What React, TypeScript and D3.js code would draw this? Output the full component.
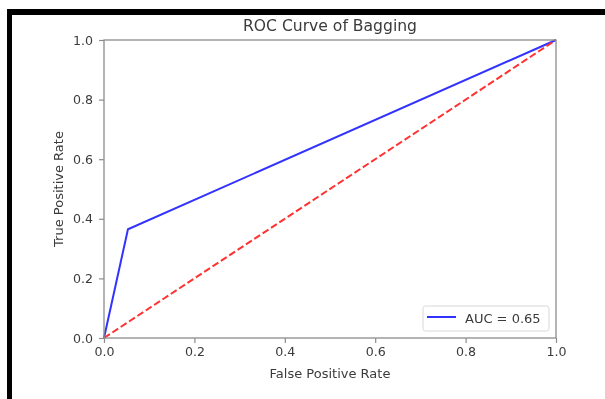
import * as d3 from "d3";
import React, { useRef, useEffect } from "react";

const fpr = [0, 0.053, 1];
const tpr = [0, 0.365, 1];
const chanceX = [0, 1];
const chanceY = [0, 1];
const tickValues = [0, 0.2, 0.4, 0.6, 0.8, 1.0];
const title = "ROC Curve of Bagging";
const xTitle = "False Positive Rate";
const yTitle = "True Positive Rate";
const legendLabel = "AUC = 0.65";

const width = 605;
const height = 399;
const margin = { top: 40, right: 49, bottom: 61, left: 104 };
const font = "DejaVu Sans, sans-serif";
const textColor = "#3a3a3a";
const spineColor = "#8c8c8c";

export default function App() {
  const ref = useRef<SVGSVGElement>(null);

  useEffect(() => {
    const svg = d3.select(ref.current);
    svg.selectAll("*").remove();

    const innerWidth = width - margin.left - margin.right;
    const innerHeight = height - margin.top - margin.bottom;

    svg
      .append("defs")
      .append("filter")
      .attr("id", "soft")
      .append("feGaussianBlur")
      .attr("stdDeviation", 0.35);

    svg.append("rect").attr("width", width).attr("height", height).attr("fill", "#fff");

    // black screenshot frame
    svg.append("rect").attr("x", 7).attr("y", 9).attr("width", width - 7).attr("height", 6).attr("fill", "#000");
    svg.append("rect").attr("x", 7).attr("y", 9).attr("width", 5).attr("height", height - 9).attr("fill", "#000");

    const root = svg.append("g").attr("filter", "url(#soft)");
    const chart = root.append("g").attr("transform", `translate(${margin.left},${margin.top})`);

    const x = d3.scaleLinear().domain([0, 1]).range([0, innerWidth]);
    const y = d3.scaleLinear().domain([0, 1]).range([innerHeight, 0]);

    const pathOf = (xs: number[], ys: number[]) =>
      d3
        .line<number>()
        .x((_, i) => x(xs[i]))
        .y((_, i) => y(ys[i]))(xs);

    chart
      .append("path")
      .attr("d", pathOf(fpr, tpr))
      .attr("fill", "none")
      .attr("stroke", "#3333ff")
      .attr("stroke-width", 2);

    chart
      .append("path")
      .attr("d", pathOf(chanceX, chanceY))
      .attr("fill", "none")
      .attr("stroke", "#ff3333")
      .attr("stroke-width", 2)
      .attr("stroke-dasharray", "7,3");

    const xAxis = d3
      .axisBottom(x)
      .tickValues(tickValues)
      .tickFormat(d3.format(".1f"))
      .tickSize(5)
      .tickPadding(4);
    const yAxis = d3
      .axisLeft(y)
      .tickValues(tickValues)
      .tickFormat(d3.format(".1f"))
      .tickSize(5)
      .tickPadding(6);

    const gx = chart.append("g").attr("transform", `translate(0,${innerHeight})`).call(xAxis);
    const gy = chart.append("g").call(yAxis);
    [gx, gy].forEach((g) => {
      g.select(".domain").remove();
      g.selectAll("line").attr("stroke", spineColor).attr("stroke-width", 1.2);
      g.selectAll("text")
        .attr("fill", textColor)
        .style("font-family", font)
        .style("font-size", "12.6px");
    });

    chart
      .append("rect")
      .attr("width", innerWidth)
      .attr("height", innerHeight)
      .attr("fill", "none")
      .attr("stroke", spineColor)
      .attr("stroke-width", 1.3);

    chart
      .append("text")
      .attr("x", innerWidth / 2)
      .attr("y", -9)
      .attr("text-anchor", "middle")
      .attr("fill", textColor)
      .style("font-family", font)
      .style("font-size", "15.6px")
      .text(title);

    chart
      .append("text")
      .attr("x", innerWidth / 2)
      .attr("y", innerHeight + 40)
      .attr("text-anchor", "middle")
      .attr("fill", textColor)
      .style("font-family", font)
      .style("font-size", "13px")
      .text(xTitle);

    chart
      .append("text")
      .attr("transform", `translate(-41,${innerHeight / 2}) rotate(-90)`)
      .attr("text-anchor", "middle")
      .attr("fill", textColor)
      .style("font-family", font)
      .style("font-size", "13px")
      .text(yTitle);

    // legend
    const legend = chart.append("g").attr("transform", `translate(${innerWidth - 133},${innerHeight - 32})`);
    legend
      .append("rect")
      .attr("width", 126)
      .attr("height", 25)
      .attr("rx", 2.5)
      .attr("fill", "#fff")
      .attr("fill-opacity", 0.8)
      .attr("stroke", "#d8d8d8")
      .attr("stroke-width", 1);
    legend
      .append("line")
      .attr("x1", 4)
      .attr("x2", 33)
      .attr("y1", 11)
      .attr("y2", 11)
      .attr("stroke", "#3333ff")
      .attr("stroke-width", 2);
    legend
      .append("text")
      .attr("x", 42)
      .attr("y", 17)
      .attr("fill", textColor)
      .style("font-family", font)
      .style("font-size", "13px")
      .text(legendLabel);
  }, []);

  return (
    <svg
      ref={ref}
      width={width}
      height={height}
      style={{ position: "absolute", left: 0, top: 0, display: "block" }}
    />
  );
}
